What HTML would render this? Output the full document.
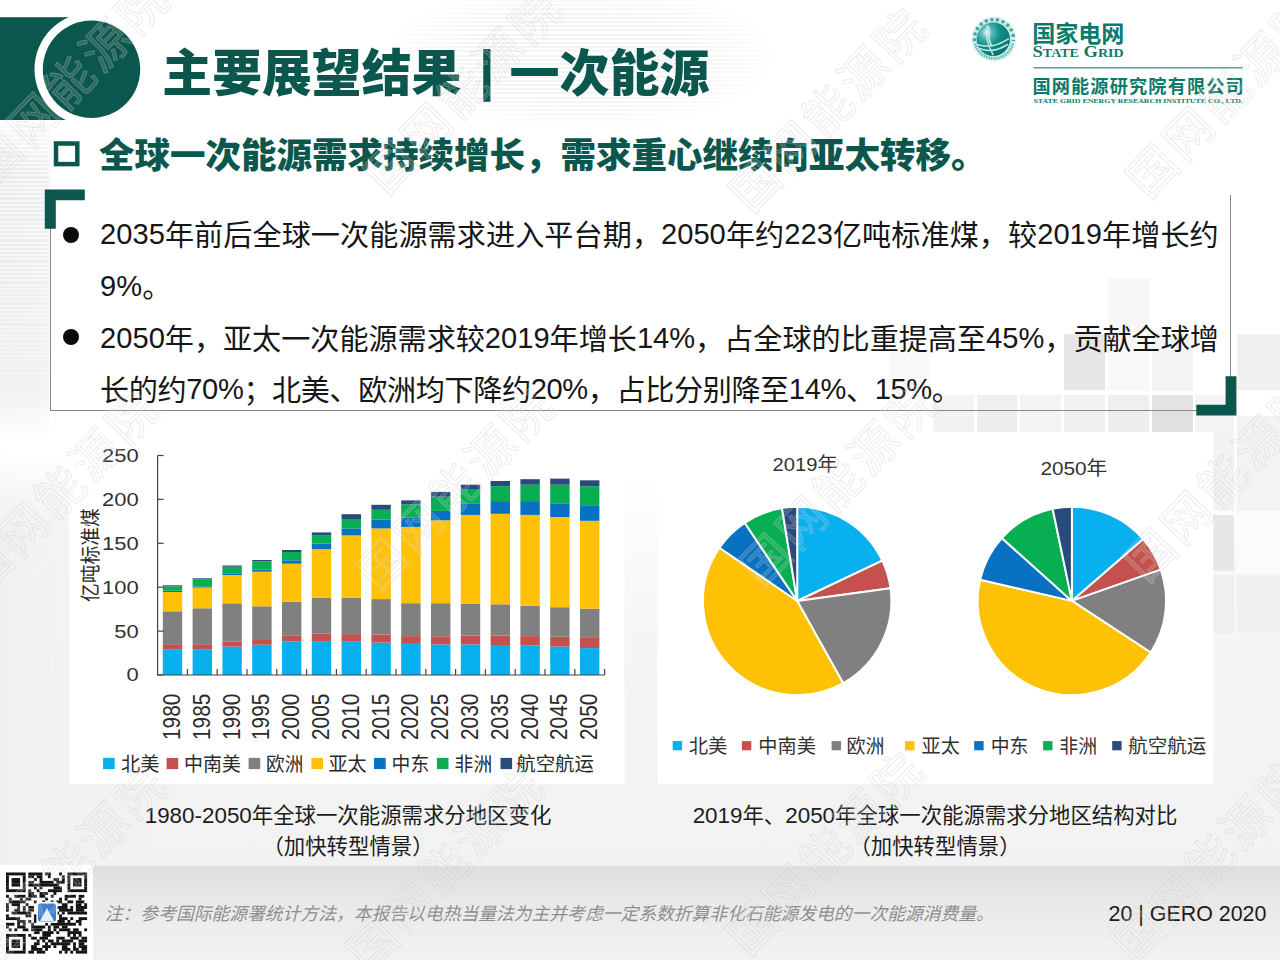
<!DOCTYPE html>
<html lang="zh-CN">
<head>
<meta charset="utf-8">
<title>主要展望结果 | 一次能源</title>
<style>
html,body{margin:0;padding:0;}
body{width:1280px;height:960px;overflow:hidden;position:relative;background:#fff;
 font-family:"Liberation Sans","Noto Sans CJK SC",sans-serif;color:#1a1a1a;}
#bg{position:absolute;left:0;top:0;width:1280px;height:960px;
 background:linear-gradient(180deg,#ffffff 0px,#ffffff 470px,#f6f6f6 620px,#f3f3f3 760px,#f2f2f2 865px);}
#lsh{position:absolute;left:0;top:120px;width:52px;height:320px;background:linear-gradient(90deg,rgba(241,241,241,1) 0,rgba(242,242,242,.9) 46px,rgba(243,243,243,0) 52px);
 -webkit-mask-image:linear-gradient(180deg,transparent 0,#000 50px,#000 270px,transparent 320px);mask-image:linear-gradient(180deg,transparent 0,#000 50px,#000 270px,transparent 320px);}
#lsh2{position:absolute;left:0;top:450px;width:160px;height:415px;background:linear-gradient(90deg,rgba(240,240,240,1) 0,rgba(241,241,241,.8) 60px,rgba(243,243,243,0) 150px);
 -webkit-mask-image:linear-gradient(180deg,transparent 0,#000 80px);mask-image:linear-gradient(180deg,transparent 0,#000 80px);}
.abs{position:absolute;white-space:nowrap;}
svg{position:absolute;left:0;top:0;}
svg text{font-family:"Liberation Sans","Noto Sans CJK SC",sans-serif;}
.tt{line-height:72px;font-weight:900;color:#0c574d;}
#sub{left:98.9px;top:130px;font-size:35.5px;line-height:52px;font-weight:900;color:#0c574d;}
#box{position:absolute;left:50px;top:195px;width:1179px;height:215px;background:linear-gradient(90deg,rgba(255,255,255,.95) 0,rgba(255,255,255,.12) 260px);
 border-left:1px solid #8a8a8a;border-right:1px solid #8a8a8a;border-bottom:1px solid #8a8a8a;box-sizing:content-box;}
.ln{position:absolute;left:100.1px;font-size:29.1px;line-height:40px;height:40px;white-space:nowrap;color:#161616;}
.jl{width:1118.6px;text-align:justify;text-align-last:justify;}
.d{position:relative;top:-2.5px;}
.cap b{font-weight:400;font-size:22.4px;}
.dot{position:absolute;width:16.4px;height:16.4px;border-radius:50%;background:#0a0a0a;left:63px;}
.cap{position:absolute;font-size:21.4px;line-height:31.6px;text-align:center;color:#1c1c1c;white-space:nowrap;}
#foot{position:absolute;left:0;top:866px;width:1280px;height:94px;
 background:linear-gradient(180deg,#dedede 0,#e6e6e6 25px,#efefef 70px,#f1f1f1 95px);}
#note{left:104.8px;top:901px;font-size:17.79px;line-height:26px;font-style:italic;color:#8f8f8f;}
#pg{left:1108.6px;top:899px;font-size:21.4px;line-height:30px;color:#1c1c1c;}
.wm{position:absolute;font-size:48px;line-height:50px;font-weight:400;color:rgba(255,255,255,.12);-webkit-text-stroke:1.1px rgba(195,195,195,.30);white-space:nowrap;transform:translate(-50%,-50%) rotate(-46deg);letter-spacing:4px;}
</style>
</head>
<body>
<div id="bg"></div>
<div id="lsh"></div><div id="lsh2"></div>

<!-- faint map stripes -->
<div style="position:absolute;left:385px;top:0;width:390px;height:126px;background:repeating-linear-gradient(180deg,rgba(0,0,0,.045) 0,rgba(0,0,0,.045) 2px,rgba(0,0,0,0) 2px,rgba(0,0,0,0) 4.2px);-webkit-mask-image:radial-gradient(ellipse 52% 62% at 50% 45%,#000 55%,transparent 100%);mask-image:radial-gradient(ellipse 52% 62% at 50% 45%,#000 55%,transparent 100%);"></div>
<div style="position:absolute;left:0;top:126px;width:50px;height:300px;background:repeating-linear-gradient(180deg,rgba(0,0,0,.02) 0,rgba(0,0,0,.02) 2.2px,rgba(255,255,255,.4) 2.2px,rgba(255,255,255,.4) 4.2px);-webkit-mask-image:linear-gradient(180deg,#000 0,#000 45%,transparent 100%);mask-image:linear-gradient(180deg,#000 0,#000 45%,transparent 100%);"></div>
<!-- decorative squares -->
<svg width="1280" height="960" viewBox="0 0 1280 960">
 <g>
  <rect x="1108" y="278" width="41" height="54" fill="#f6f6f6"/>
  <rect x="1108" y="334" width="41" height="57" fill="#f7f7f7"/>
  <rect x="1064" y="334" width="41" height="56" fill="#e3e3e3"/>
  <rect x="889" y="350" width="41" height="40" fill="#f8f8f8"/>
  <rect x="1152" y="334" width="41" height="57" fill="#f3f3f3"/>
  <rect x="1237" y="334" width="43" height="56" fill="#f0f0f0"/>
  <rect x="933" y="395" width="41" height="37" fill="#f2f2f2"/>
  <rect x="977" y="395" width="40" height="37" fill="#ededed"/>
  <rect x="1020" y="395" width="41" height="37" fill="#f3f3f3"/>
  <rect x="1064" y="395" width="41" height="37" fill="#f0f0f0"/>
  <rect x="1108" y="395" width="41" height="37" fill="#ededed"/>
  <rect x="1152" y="395" width="41" height="37" fill="#e0e0e0"/>
  <rect x="1195" y="395" width="39" height="37" fill="#f3f3f3"/>
  <rect x="1237" y="416" width="43" height="95" fill="#f3f3f3"/>
  <rect x="1212" y="432" width="22" height="79" fill="#f2f2f2"/>
  <rect x="1212" y="515" width="22" height="56" fill="#e7e7e7"/>
  <rect x="1237" y="514" width="43" height="58" fill="#fbfbfb"/>
  <rect x="1212" y="575" width="22" height="58" fill="#efefef"/>
  <rect x="1237" y="575" width="43" height="58" fill="#f0f0f0"/>
 </g>
</svg>

<!-- header shapes -->
<svg width="1280" height="960" viewBox="0 0 1280 960">
 <rect x="0" y="17.2" width="92" height="102.8" fill="#0c574d"/>
 <circle cx="91.5" cy="69.3" r="57" fill="#ffffff"/>
 <circle cx="91.5" cy="69.3" r="48.7" fill="#0c574d"/>
</svg>

<div class="abs tt" style="left:162.3px;top:38px;font-size:49.85px">主要展望结果</div>
<div class="abs tt" style="left:479px;top:34px;font-size:56px;">|</div>
<div class="abs tt" style="left:509.6px;top:38px;font-size:50px">一次能源</div>

<!-- logo -->
<svg width="1280" height="960" viewBox="0 0 1280 960">
 <defs>
  <radialGradient id="gl" cx="30%" cy="30%" r="80%">
   <stop offset="0" stop-color="#dff5f2"/><stop offset="0.22" stop-color="#56b9b3"/><stop offset="0.5" stop-color="#0f8e8a"/><stop offset="1" stop-color="#07706d"/>
  </radialGradient>
 </defs>
 <circle cx="993.9" cy="39" r="22.4" fill="#d9f2f0"/>
 <circle cx="993.9" cy="39" r="20.6" fill="#c4ebe7"/>
 <path d="M974.51 41.04 A19.5 19.5 0 1 1 1013.29 41.04" fill="none" stroke="#2f9792" stroke-width="3.2" stroke-dasharray="2.7 3.1" opacity=".9"/>
 <path d="M1012.82 43.72 A19.5 19.5 0 0 1 974.98 43.72" fill="none" stroke="#3da39d" stroke-width="2.6" stroke-dasharray="1.3 1.2" opacity=".75"/>
 <circle cx="993.3" cy="39.2" r="16.7" fill="url(#gl)"/>
 <path d="M977.5 44.5 Q992 49.5 1008.5 38.8 M979.5 48.5 Q993 54 1007.5 44.5 M987.2 25.5 Q984.5 40 993 54.5 M989 27 Q987.6 38 991.6 46" fill="none" stroke="#d2f3ef" stroke-width="1.5" stroke-linecap="round" opacity=".9"/>
 <text x="1032.2" y="41.5" font-size="22.6" font-weight="700" fill="#0b7a6c" textLength="92.2" lengthAdjust="spacingAndGlyphs">国家电网</text>
 <text x="1032.6" y="57" font-family="Liberation Serif, serif" font-weight="700" fill="#0b7a6c" font-size="16.6" textLength="91" lengthAdjust="spacingAndGlyphs" style="font-family:'Liberation Serif',serif">S<tspan font-size="12.6">TATE</tspan> G<tspan font-size="12.6">RID</tspan></text>
 <rect x="1033.5" y="67" width="209.5" height="1.5" fill="#5f9c93"/>
 <text x="1032.4" y="93" font-size="18.2" font-weight="700" fill="#0b7a6c" textLength="211.4" lengthAdjust="spacing">国网能源研究院有限公司</text>
 <text x="1033.5" y="103.2" font-weight="700" fill="#0b7a6c" font-size="6.4" textLength="209.5" lengthAdjust="spacingAndGlyphs" style="font-family:'Liberation Serif',serif">STATE GRID ENERGY RESEARCH INSTITUTE CO., LTD.</text>
</svg>

<!-- subtitle -->
<svg width="1280" height="960" viewBox="0 0 1280 960">
 <rect x="56" y="143.5" width="21.3" height="20.6" fill="none" stroke="#0c574d" stroke-width="4.5"/>
</svg>
<div id="sub" class="abs">全球一次能源需求持续增长，需求重心继续向亚太转移。</div>

<!-- text box -->
<div id="box"></div>
<svg width="1280" height="960" viewBox="0 0 1280 960">
 <path d="M44.8 189.4 H84.8 V200.2 H55.8 V228.8 H44.8 Z" fill="#0c574d"/>
 <path d="M1236.4 415.5 H1196.3 V404.7 H1225.6 V376.3 H1236.4 Z" fill="#0c574d"/>
</svg>
<div class="dot" style="top:226.5px"></div>
<div class="dot" style="top:329px"></div>
<div class="ln jl" style="top:216.2px"><span class="d">2035</span>年前后全球一次能源需求进入平台期，<span class="d">2050</span>年约<span class="d">223</span>亿吨标准煤，较<span class="d">2019</span>年增长约</div>
<div class="ln" style="top:268.0px"><span class="d">9%</span>。</div>
<div class="ln jl" style="top:320.0px"><span class="d">2050</span>年，亚太一次能源需求较<span class="d">2019</span>年增长<span class="d">14%</span>，占全球的比重提高至<span class="d">45%</span>，贡献全球增</div>
<div class="ln" style="top:371.2px;letter-spacing:-0.37px">长的约<span class="d">70%</span>；北美、欧洲均下降约<span class="d">20%</span>，占比分别降至<span class="d">14%</span>、<span class="d">15%</span>。</div>

<!-- charts -->
<svg width="1280" height="960" viewBox="0 0 1280 960">
<rect x="69.5" y="432.5" width="555" height="351.5" fill="#fff"/>
<rect x="162.8" y="649.2" width="19.4" height="25.8" fill="#08b0ef"/>
<rect x="162.8" y="644.2" width="19.4" height="5.0" fill="#c4514d"/>
<rect x="162.8" y="611.3" width="19.4" height="32.9" fill="#808080"/>
<rect x="162.8" y="592.0" width="19.4" height="19.3" fill="#ffc105"/>
<rect x="162.8" y="590.8" width="19.4" height="1.2" fill="#0871c1"/>
<rect x="162.8" y="586.3" width="19.4" height="4.5" fill="#08af52"/>
<rect x="162.8" y="585.3" width="19.4" height="1.0" fill="#294b7b"/>
<rect x="192.6" y="649.2" width="19.4" height="25.8" fill="#08b0ef"/>
<rect x="192.6" y="644.2" width="19.4" height="5.0" fill="#c4514d"/>
<rect x="192.6" y="608.3" width="19.4" height="35.9" fill="#808080"/>
<rect x="192.6" y="587.5" width="19.4" height="20.8" fill="#ffc105"/>
<rect x="192.6" y="586.4" width="19.4" height="1.1" fill="#0871c1"/>
<rect x="192.6" y="579.2" width="19.4" height="7.2" fill="#08af52"/>
<rect x="192.6" y="578.3" width="19.4" height="0.9" fill="#294b7b"/>
<rect x="222.4" y="646.7" width="19.4" height="28.3" fill="#08b0ef"/>
<rect x="222.4" y="641.7" width="19.4" height="5.0" fill="#c4514d"/>
<rect x="222.4" y="603.3" width="19.4" height="38.4" fill="#808080"/>
<rect x="222.4" y="575.0" width="19.4" height="28.3" fill="#ffc105"/>
<rect x="222.4" y="573.3" width="19.4" height="1.7" fill="#0871c1"/>
<rect x="222.4" y="566.7" width="19.4" height="6.6" fill="#08af52"/>
<rect x="222.4" y="565.5" width="19.4" height="1.2" fill="#294b7b"/>
<rect x="252.2" y="644.7" width="19.4" height="30.3" fill="#08b0ef"/>
<rect x="252.2" y="640.0" width="19.4" height="4.7" fill="#c4514d"/>
<rect x="252.2" y="606.3" width="19.4" height="33.7" fill="#808080"/>
<rect x="252.2" y="571.7" width="19.4" height="34.6" fill="#ffc105"/>
<rect x="252.2" y="569.7" width="19.4" height="2.0" fill="#0871c1"/>
<rect x="252.2" y="561.3" width="19.4" height="8.4" fill="#08af52"/>
<rect x="252.2" y="560.0" width="19.4" height="1.3" fill="#294b7b"/>
<rect x="282.0" y="641.3" width="19.4" height="33.7" fill="#08b0ef"/>
<rect x="282.0" y="635.3" width="19.4" height="6.0" fill="#c4514d"/>
<rect x="282.0" y="601.7" width="19.4" height="33.6" fill="#808080"/>
<rect x="282.0" y="563.7" width="19.4" height="38.0" fill="#ffc105"/>
<rect x="282.0" y="560.3" width="19.4" height="3.4" fill="#0871c1"/>
<rect x="282.0" y="552.0" width="19.4" height="8.3" fill="#08af52"/>
<rect x="282.0" y="550.0" width="19.4" height="2.0" fill="#294b7b"/>
<rect x="311.8" y="641.1" width="19.4" height="33.9" fill="#08b0ef"/>
<rect x="311.8" y="633.4" width="19.4" height="7.7" fill="#c4514d"/>
<rect x="311.8" y="597.8" width="19.4" height="35.6" fill="#808080"/>
<rect x="311.8" y="549.2" width="19.4" height="48.6" fill="#ffc105"/>
<rect x="311.8" y="543.7" width="19.4" height="5.5" fill="#0871c1"/>
<rect x="311.8" y="535.6" width="19.4" height="8.1" fill="#08af52"/>
<rect x="311.8" y="532.4" width="19.4" height="3.2" fill="#294b7b"/>
<rect x="341.6" y="641.7" width="19.4" height="33.3" fill="#08b0ef"/>
<rect x="341.6" y="634.1" width="19.4" height="7.6" fill="#c4514d"/>
<rect x="341.6" y="597.8" width="19.4" height="36.3" fill="#808080"/>
<rect x="341.6" y="535.4" width="19.4" height="62.4" fill="#ffc105"/>
<rect x="341.6" y="528.4" width="19.4" height="7.0" fill="#0871c1"/>
<rect x="341.6" y="519.0" width="19.4" height="9.4" fill="#08af52"/>
<rect x="341.6" y="514.2" width="19.4" height="4.8" fill="#294b7b"/>
<rect x="371.4" y="642.6" width="19.4" height="32.4" fill="#08b0ef"/>
<rect x="371.4" y="634.5" width="19.4" height="8.1" fill="#c4514d"/>
<rect x="371.4" y="599.1" width="19.4" height="35.4" fill="#808080"/>
<rect x="371.4" y="528.4" width="19.4" height="70.7" fill="#ffc105"/>
<rect x="371.4" y="519.7" width="19.4" height="8.7" fill="#0871c1"/>
<rect x="371.4" y="509.8" width="19.4" height="9.9" fill="#08af52"/>
<rect x="371.4" y="504.8" width="19.4" height="5.0" fill="#294b7b"/>
<rect x="401.2" y="643.9" width="19.4" height="31.1" fill="#08b0ef"/>
<rect x="401.2" y="636.1" width="19.4" height="7.8" fill="#c4514d"/>
<rect x="401.2" y="603.2" width="19.4" height="32.9" fill="#808080"/>
<rect x="401.2" y="526.9" width="19.4" height="76.3" fill="#ffc105"/>
<rect x="401.2" y="517.5" width="19.4" height="9.4" fill="#0871c1"/>
<rect x="401.2" y="504.4" width="19.4" height="13.1" fill="#08af52"/>
<rect x="401.2" y="500.4" width="19.4" height="4.0" fill="#294b7b"/>
<rect x="431.0" y="644.4" width="19.4" height="30.6" fill="#08b0ef"/>
<rect x="431.0" y="636.3" width="19.4" height="8.1" fill="#c4514d"/>
<rect x="431.0" y="603.2" width="19.4" height="33.1" fill="#808080"/>
<rect x="431.0" y="520.3" width="19.4" height="82.9" fill="#ffc105"/>
<rect x="431.0" y="510.9" width="19.4" height="9.4" fill="#0871c1"/>
<rect x="431.0" y="496.7" width="19.4" height="14.2" fill="#08af52"/>
<rect x="431.0" y="491.9" width="19.4" height="4.8" fill="#294b7b"/>
<rect x="460.8" y="644.4" width="19.4" height="30.6" fill="#08b0ef"/>
<rect x="460.8" y="635.6" width="19.4" height="8.8" fill="#c4514d"/>
<rect x="460.8" y="603.9" width="19.4" height="31.7" fill="#808080"/>
<rect x="460.8" y="514.9" width="19.4" height="89.0" fill="#ffc105"/>
<rect x="460.8" y="503.3" width="19.4" height="11.6" fill="#0871c1"/>
<rect x="460.8" y="489.7" width="19.4" height="13.6" fill="#08af52"/>
<rect x="460.8" y="484.7" width="19.4" height="5.0" fill="#294b7b"/>
<rect x="490.6" y="645.0" width="19.4" height="30.0" fill="#08b0ef"/>
<rect x="490.6" y="635.6" width="19.4" height="9.4" fill="#c4514d"/>
<rect x="490.6" y="604.3" width="19.4" height="31.3" fill="#808080"/>
<rect x="490.6" y="513.8" width="19.4" height="90.5" fill="#ffc105"/>
<rect x="490.6" y="501.1" width="19.4" height="12.7" fill="#0871c1"/>
<rect x="490.6" y="486.2" width="19.4" height="14.9" fill="#08af52"/>
<rect x="490.6" y="481.0" width="19.4" height="5.2" fill="#294b7b"/>
<rect x="520.4" y="645.5" width="19.4" height="29.5" fill="#08b0ef"/>
<rect x="520.4" y="636.1" width="19.4" height="9.4" fill="#c4514d"/>
<rect x="520.4" y="605.7" width="19.4" height="30.4" fill="#808080"/>
<rect x="520.4" y="514.9" width="19.4" height="90.8" fill="#ffc105"/>
<rect x="520.4" y="501.1" width="19.4" height="13.8" fill="#0871c1"/>
<rect x="520.4" y="484.7" width="19.4" height="16.4" fill="#08af52"/>
<rect x="520.4" y="479.2" width="19.4" height="5.5" fill="#294b7b"/>
<rect x="550.2" y="646.6" width="19.4" height="28.4" fill="#08b0ef"/>
<rect x="550.2" y="636.7" width="19.4" height="9.9" fill="#c4514d"/>
<rect x="550.2" y="607.2" width="19.4" height="29.5" fill="#808080"/>
<rect x="550.2" y="517.1" width="19.4" height="90.1" fill="#ffc105"/>
<rect x="550.2" y="503.3" width="19.4" height="13.8" fill="#0871c1"/>
<rect x="550.2" y="484.7" width="19.4" height="18.6" fill="#08af52"/>
<rect x="550.2" y="478.6" width="19.4" height="6.1" fill="#294b7b"/>
<rect x="580.0" y="648.1" width="19.4" height="26.9" fill="#08b0ef"/>
<rect x="580.0" y="637.2" width="19.4" height="10.9" fill="#c4514d"/>
<rect x="580.0" y="608.7" width="19.4" height="28.5" fill="#808080"/>
<rect x="580.0" y="520.8" width="19.4" height="87.9" fill="#ffc105"/>
<rect x="580.0" y="505.9" width="19.4" height="14.9" fill="#0871c1"/>
<rect x="580.0" y="486.2" width="19.4" height="19.7" fill="#08af52"/>
<rect x="580.0" y="480.3" width="19.4" height="5.9" fill="#294b7b"/>
<path d="M157.6 455.5 V675.0 H604.6" fill="none" stroke="#444" stroke-width="1.2"/>
<path d="M157.6 675.0 h6" stroke="#444" stroke-width="1.2"/>
<text x="138.7" y="681.4" text-anchor="end" font-size="18" fill="#303030" textLength="12.2" lengthAdjust="spacingAndGlyphs">0</text>
<path d="M157.6 631.1 h6" stroke="#444" stroke-width="1.2"/>
<text x="138.7" y="637.5" text-anchor="end" font-size="18" fill="#303030" textLength="24.4" lengthAdjust="spacingAndGlyphs">50</text>
<path d="M157.6 587.2 h6" stroke="#444" stroke-width="1.2"/>
<text x="138.7" y="593.6" text-anchor="end" font-size="18" fill="#303030" textLength="36.6" lengthAdjust="spacingAndGlyphs">100</text>
<path d="M157.6 543.3 h6" stroke="#444" stroke-width="1.2"/>
<text x="138.7" y="549.7" text-anchor="end" font-size="18" fill="#303030" textLength="36.6" lengthAdjust="spacingAndGlyphs">150</text>
<path d="M157.6 499.4 h6" stroke="#444" stroke-width="1.2"/>
<text x="138.7" y="505.8" text-anchor="end" font-size="18" fill="#303030" textLength="36.6" lengthAdjust="spacingAndGlyphs">200</text>
<path d="M157.6 455.5 h6" stroke="#444" stroke-width="1.2"/>
<text x="138.7" y="461.9" text-anchor="end" font-size="18" fill="#303030" textLength="36.6" lengthAdjust="spacingAndGlyphs">250</text>
<path d="M187.4 675.0 v-6" stroke="#444" stroke-width="1.2"/>
<path d="M217.2 675.0 v-6" stroke="#444" stroke-width="1.2"/>
<path d="M247.0 675.0 v-6" stroke="#444" stroke-width="1.2"/>
<path d="M276.8 675.0 v-6" stroke="#444" stroke-width="1.2"/>
<path d="M306.6 675.0 v-6" stroke="#444" stroke-width="1.2"/>
<path d="M336.4 675.0 v-6" stroke="#444" stroke-width="1.2"/>
<path d="M366.2 675.0 v-6" stroke="#444" stroke-width="1.2"/>
<path d="M396.0 675.0 v-6" stroke="#444" stroke-width="1.2"/>
<path d="M425.8 675.0 v-6" stroke="#444" stroke-width="1.2"/>
<path d="M455.6 675.0 v-6" stroke="#444" stroke-width="1.2"/>
<path d="M485.4 675.0 v-6" stroke="#444" stroke-width="1.2"/>
<path d="M515.2 675.0 v-6" stroke="#444" stroke-width="1.2"/>
<path d="M545.0 675.0 v-6" stroke="#444" stroke-width="1.2"/>
<path d="M574.8 675.0 v-6" stroke="#444" stroke-width="1.2"/>
<path d="M604.6 675.0 v-6" stroke="#444" stroke-width="1.2"/>
<text transform="translate(180.0 740) rotate(-90)" font-size="23.4" fill="#2a2a2a" textLength="46.4" lengthAdjust="spacingAndGlyphs">1980</text>
<text transform="translate(209.8 740) rotate(-90)" font-size="23.4" fill="#2a2a2a" textLength="46.4" lengthAdjust="spacingAndGlyphs">1985</text>
<text transform="translate(239.6 740) rotate(-90)" font-size="23.4" fill="#2a2a2a" textLength="46.4" lengthAdjust="spacingAndGlyphs">1990</text>
<text transform="translate(269.4 740) rotate(-90)" font-size="23.4" fill="#2a2a2a" textLength="46.4" lengthAdjust="spacingAndGlyphs">1995</text>
<text transform="translate(299.2 740) rotate(-90)" font-size="23.4" fill="#2a2a2a" textLength="46.4" lengthAdjust="spacingAndGlyphs">2000</text>
<text transform="translate(329.0 740) rotate(-90)" font-size="23.4" fill="#2a2a2a" textLength="46.4" lengthAdjust="spacingAndGlyphs">2005</text>
<text transform="translate(358.8 740) rotate(-90)" font-size="23.4" fill="#2a2a2a" textLength="46.4" lengthAdjust="spacingAndGlyphs">2010</text>
<text transform="translate(388.6 740) rotate(-90)" font-size="23.4" fill="#2a2a2a" textLength="46.4" lengthAdjust="spacingAndGlyphs">2015</text>
<text transform="translate(418.4 740) rotate(-90)" font-size="23.4" fill="#2a2a2a" textLength="46.4" lengthAdjust="spacingAndGlyphs">2020</text>
<text transform="translate(448.2 740) rotate(-90)" font-size="23.4" fill="#2a2a2a" textLength="46.4" lengthAdjust="spacingAndGlyphs">2025</text>
<text transform="translate(478.0 740) rotate(-90)" font-size="23.4" fill="#2a2a2a" textLength="46.4" lengthAdjust="spacingAndGlyphs">2030</text>
<text transform="translate(507.8 740) rotate(-90)" font-size="23.4" fill="#2a2a2a" textLength="46.4" lengthAdjust="spacingAndGlyphs">2035</text>
<text transform="translate(537.6 740) rotate(-90)" font-size="23.4" fill="#2a2a2a" textLength="46.4" lengthAdjust="spacingAndGlyphs">2040</text>
<text transform="translate(567.4 740) rotate(-90)" font-size="23.4" fill="#2a2a2a" textLength="46.4" lengthAdjust="spacingAndGlyphs">2045</text>
<text transform="translate(597.2 740) rotate(-90)" font-size="23.4" fill="#2a2a2a" textLength="46.4" lengthAdjust="spacingAndGlyphs">2050</text>
<text transform="translate(98 602) rotate(-90) scale(0.92 1.02)" font-size="20.4" fill="#2a2a2a">亿吨标准煤</text>
<rect x="103.1" y="757.9" width="11.6" height="11.2" fill="#08b0ef"/>
<text x="121.1" y="770.6" font-size="19.6" fill="#2a2a2a" textLength="38.5" lengthAdjust="spacingAndGlyphs">北美</text>
<rect x="166.6" y="757.9" width="11.6" height="11.2" fill="#c4514d"/>
<text x="184.1" y="770.6" font-size="19.6" fill="#2a2a2a" textLength="56.8" lengthAdjust="spacingAndGlyphs">中南美</text>
<rect x="248.6" y="757.9" width="11.6" height="11.2" fill="#808080"/>
<text x="266.1" y="770.6" font-size="19.6" fill="#2a2a2a" textLength="37.2" lengthAdjust="spacingAndGlyphs">欧洲</text>
<rect x="311.4" y="757.9" width="11.6" height="11.2" fill="#ffc105"/>
<text x="328.5" y="770.6" font-size="19.6" fill="#2a2a2a" textLength="38.2" lengthAdjust="spacingAndGlyphs">亚太</text>
<rect x="374.1" y="757.9" width="11.6" height="11.2" fill="#0871c1"/>
<text x="391.6" y="770.6" font-size="19.6" fill="#2a2a2a" textLength="37.6" lengthAdjust="spacingAndGlyphs">中东</text>
<rect x="436.9" y="757.9" width="11.6" height="11.2" fill="#08af52"/>
<text x="454.6" y="770.6" font-size="19.6" fill="#2a2a2a" textLength="37.6" lengthAdjust="spacingAndGlyphs">非洲</text>
<rect x="500.5" y="757.9" width="11.6" height="11.2" fill="#294b7b"/>
<text x="516.3" y="770.6" font-size="19.6" fill="#2a2a2a" textLength="77.6" lengthAdjust="spacingAndGlyphs">航空航运</text>
</svg>
<svg width="1280" height="960" viewBox="0 0 1280 960">
<rect x="657.5" y="432.5" width="555.8" height="351.5" fill="#fff"/>
<path d="M797.2 601.0 L797.20 506.80 A94.2 94.2 0 0 1 882.29 560.59 Z" fill="#08b0ef" stroke="#fff" stroke-width="2" stroke-linejoin="round"/>
<path d="M797.2 601.0 L882.29 560.59 A94.2 94.2 0 0 1 890.53 588.22 Z" fill="#c4514d" stroke="#fff" stroke-width="2" stroke-linejoin="round"/>
<path d="M797.2 601.0 L890.53 588.22 A94.2 94.2 0 0 1 843.16 683.23 Z" fill="#808080" stroke="#fff" stroke-width="2" stroke-linejoin="round"/>
<path d="M797.2 601.0 L843.16 683.23 A94.2 94.2 0 0 1 719.47 547.78 Z" fill="#ffc105" stroke="#fff" stroke-width="2" stroke-linejoin="round"/>
<path d="M797.2 601.0 L719.47 547.78 A94.2 94.2 0 0 1 744.66 522.81 Z" fill="#0871c1" stroke="#fff" stroke-width="2" stroke-linejoin="round"/>
<path d="M797.2 601.0 L744.66 522.81 A94.2 94.2 0 0 1 781.98 508.04 Z" fill="#08af52" stroke="#fff" stroke-width="2" stroke-linejoin="round"/>
<path d="M797.2 601.0 L781.98 508.04 A94.2 94.2 0 0 1 797.20 506.80 Z" fill="#294b7b" stroke="#fff" stroke-width="2" stroke-linejoin="round"/>
<path d="M1071.9 600.9 L1071.90 506.70 A94.2 94.2 0 0 1 1143.10 539.22 Z" fill="#08b0ef" stroke="#fff" stroke-width="2" stroke-linejoin="round"/>
<path d="M1071.9 600.9 L1143.10 539.22 A94.2 94.2 0 0 1 1160.75 569.61 Z" fill="#c4514d" stroke="#fff" stroke-width="2" stroke-linejoin="round"/>
<path d="M1071.9 600.9 L1160.75 569.61 A94.2 94.2 0 0 1 1150.72 652.48 Z" fill="#808080" stroke="#fff" stroke-width="2" stroke-linejoin="round"/>
<path d="M1071.9 600.9 L1150.72 652.48 A94.2 94.2 0 0 1 980.11 579.71 Z" fill="#ffc105" stroke="#fff" stroke-width="2" stroke-linejoin="round"/>
<path d="M1071.9 600.9 L980.11 579.71 A94.2 94.2 0 0 1 1001.79 537.99 Z" fill="#0871c1" stroke="#fff" stroke-width="2" stroke-linejoin="round"/>
<path d="M1071.9 600.9 L1001.79 537.99 A94.2 94.2 0 0 1 1052.64 508.69 Z" fill="#08af52" stroke="#fff" stroke-width="2" stroke-linejoin="round"/>
<path d="M1071.9 600.9 L1052.64 508.69 A94.2 94.2 0 0 1 1071.90 506.70 Z" fill="#294b7b" stroke="#fff" stroke-width="2" stroke-linejoin="round"/>
<text x="772.6" y="470.6" font-size="19.2" fill="#333" textLength="65" lengthAdjust="spacingAndGlyphs">2019年</text>
<text x="1040.4" y="474.8" font-size="19.2" fill="#333" textLength="67" lengthAdjust="spacingAndGlyphs">2050年</text>
<rect x="672.7" y="741.1" width="9.4" height="9.2" fill="#08b0ef"/>
<text x="688.7" y="752.9" font-size="19.6" fill="#333" textLength="38.6" lengthAdjust="spacingAndGlyphs">北美</text>
<rect x="741.9" y="741.1" width="9.4" height="9.2" fill="#c4514d"/>
<text x="758.3" y="752.9" font-size="19.6" fill="#333" textLength="57.6" lengthAdjust="spacingAndGlyphs">中南美</text>
<rect x="831.6" y="741.1" width="9.4" height="9.2" fill="#808080"/>
<text x="846.4" y="752.9" font-size="19.6" fill="#333" textLength="38.0" lengthAdjust="spacingAndGlyphs">欧洲</text>
<rect x="905.1" y="741.1" width="9.4" height="9.2" fill="#ffc105"/>
<text x="921.6" y="752.9" font-size="19.6" fill="#333" textLength="38.2" lengthAdjust="spacingAndGlyphs">亚太</text>
<rect x="974.2" y="741.1" width="9.4" height="9.2" fill="#0871c1"/>
<text x="990.7" y="752.9" font-size="19.6" fill="#333" textLength="37.7" lengthAdjust="spacingAndGlyphs">中东</text>
<rect x="1043.1" y="741.1" width="9.4" height="9.2" fill="#08af52"/>
<text x="1059.3" y="752.9" font-size="19.6" fill="#333" textLength="37.9" lengthAdjust="spacingAndGlyphs">非洲</text>
<rect x="1112.2" y="741.1" width="9.4" height="9.2" fill="#294b7b"/>
<text x="1128.2" y="752.9" font-size="19.6" fill="#333" textLength="78.1" lengthAdjust="spacingAndGlyphs">航空航运</text>
</svg>

<div class="cap" style="left:98px;width:500px;top:799.5px"><b>1980-2050</b>年全球一次能源需求分地区变化<br>（加快转型情景）</div>
<div class="cap" style="left:685px;width:500px;top:799.5px"><b>2019</b>年、<b>2050</b>年全球一次能源需求分地区结构对比<br>（加快转型情景）</div>

<!-- footer -->
<div id="foot"></div>
<svg width="1280" height="960" viewBox="0 0 1280 960">
 <rect x="0" y="865" width="93" height="95" fill="#ffffff"/>
 <g fill="#141414"><rect x="6.00" y="872.50" width="19.65" height="2.89"/><rect x="28.34" y="872.50" width="14.07" height="2.89"/><rect x="45.10" y="872.50" width="5.69" height="2.89"/><rect x="59.07" y="872.50" width="2.89" height="2.89"/><rect x="67.45" y="872.50" width="19.65" height="2.89"/><rect x="6.00" y="875.29" width="2.89" height="2.89"/><rect x="22.76" y="875.29" width="2.89" height="2.89"/><rect x="28.34" y="875.29" width="5.69" height="2.89"/><rect x="36.72" y="875.29" width="5.69" height="2.89"/><rect x="47.90" y="875.29" width="2.89" height="2.89"/><rect x="61.86" y="875.29" width="2.89" height="2.89"/><rect x="67.45" y="875.29" width="2.89" height="2.89"/><rect x="84.21" y="875.29" width="2.89" height="2.89"/><rect x="6.00" y="878.09" width="2.89" height="2.89"/><rect x="11.59" y="878.09" width="8.48" height="2.89"/><rect x="22.76" y="878.09" width="2.89" height="2.89"/><rect x="33.93" y="878.09" width="2.89" height="2.89"/><rect x="39.52" y="878.09" width="2.89" height="2.89"/><rect x="53.48" y="878.09" width="5.69" height="2.89"/><rect x="61.86" y="878.09" width="2.89" height="2.89"/><rect x="67.45" y="878.09" width="2.89" height="2.89"/><rect x="73.03" y="878.09" width="8.48" height="2.89"/><rect x="84.21" y="878.09" width="2.89" height="2.89"/><rect x="6.00" y="880.88" width="2.89" height="2.89"/><rect x="11.59" y="880.88" width="8.48" height="2.89"/><rect x="22.76" y="880.88" width="2.89" height="2.89"/><rect x="28.34" y="880.88" width="5.69" height="2.89"/><rect x="39.52" y="880.88" width="14.07" height="2.89"/><rect x="56.28" y="880.88" width="8.48" height="2.89"/><rect x="67.45" y="880.88" width="2.89" height="2.89"/><rect x="73.03" y="880.88" width="8.48" height="2.89"/><rect x="84.21" y="880.88" width="2.89" height="2.89"/><rect x="6.00" y="883.67" width="2.89" height="2.89"/><rect x="11.59" y="883.67" width="8.48" height="2.89"/><rect x="22.76" y="883.67" width="2.89" height="2.89"/><rect x="28.34" y="883.67" width="30.82" height="2.89"/><rect x="67.45" y="883.67" width="2.89" height="2.89"/><rect x="73.03" y="883.67" width="8.48" height="2.89"/><rect x="84.21" y="883.67" width="2.89" height="2.89"/><rect x="6.00" y="886.47" width="2.89" height="2.89"/><rect x="22.76" y="886.47" width="2.89" height="2.89"/><rect x="33.93" y="886.47" width="2.89" height="2.89"/><rect x="39.52" y="886.47" width="2.89" height="2.89"/><rect x="53.48" y="886.47" width="8.48" height="2.89"/><rect x="67.45" y="886.47" width="2.89" height="2.89"/><rect x="84.21" y="886.47" width="2.89" height="2.89"/><rect x="6.00" y="889.26" width="19.65" height="2.89"/><rect x="28.34" y="889.26" width="2.89" height="2.89"/><rect x="36.72" y="889.26" width="2.89" height="2.89"/><rect x="47.90" y="889.26" width="14.07" height="2.89"/><rect x="67.45" y="889.26" width="19.65" height="2.89"/><rect x="28.34" y="892.05" width="5.69" height="2.89"/><rect x="39.52" y="892.05" width="8.48" height="2.89"/><rect x="53.48" y="892.05" width="2.89" height="2.89"/><rect x="6.00" y="894.84" width="2.89" height="2.89"/><rect x="14.38" y="894.84" width="11.27" height="2.89"/><rect x="28.34" y="894.84" width="8.48" height="2.89"/><rect x="39.52" y="894.84" width="5.69" height="2.89"/><rect x="50.69" y="894.84" width="2.89" height="2.89"/><rect x="64.66" y="894.84" width="11.27" height="2.89"/><rect x="78.62" y="894.84" width="5.69" height="2.89"/><rect x="8.79" y="897.64" width="2.89" height="2.89"/><rect x="19.97" y="897.64" width="2.89" height="2.89"/><rect x="25.55" y="897.64" width="5.69" height="2.89"/><rect x="45.10" y="897.64" width="2.89" height="2.89"/><rect x="59.07" y="897.64" width="2.89" height="2.89"/><rect x="64.66" y="897.64" width="2.89" height="2.89"/><rect x="78.62" y="897.64" width="2.89" height="2.89"/><rect x="8.79" y="900.43" width="16.86" height="2.89"/><rect x="33.93" y="900.43" width="2.89" height="2.89"/><rect x="42.31" y="900.43" width="2.89" height="2.89"/><rect x="50.69" y="900.43" width="2.89" height="2.89"/><rect x="56.28" y="900.43" width="5.69" height="2.89"/><rect x="67.45" y="900.43" width="5.69" height="2.89"/><rect x="75.83" y="900.43" width="8.48" height="2.89"/><rect x="6.00" y="903.22" width="2.89" height="2.89"/><rect x="11.59" y="903.22" width="8.48" height="2.89"/><rect x="25.55" y="903.22" width="2.89" height="2.89"/><rect x="61.86" y="903.22" width="5.69" height="2.89"/><rect x="75.83" y="903.22" width="5.69" height="2.89"/><rect x="84.21" y="903.22" width="2.89" height="2.89"/><rect x="6.00" y="906.02" width="2.89" height="2.89"/><rect x="17.17" y="906.02" width="2.89" height="2.89"/><rect x="22.76" y="906.02" width="2.89" height="2.89"/><rect x="28.34" y="906.02" width="5.69" height="2.89"/><rect x="56.28" y="906.02" width="11.27" height="2.89"/><rect x="70.24" y="906.02" width="2.89" height="2.89"/><rect x="75.83" y="906.02" width="11.27" height="2.89"/><rect x="6.00" y="908.81" width="2.89" height="2.89"/><rect x="14.38" y="908.81" width="5.69" height="2.89"/><rect x="22.76" y="908.81" width="2.89" height="2.89"/><rect x="28.34" y="908.81" width="5.69" height="2.89"/><rect x="59.07" y="908.81" width="14.07" height="2.89"/><rect x="75.83" y="908.81" width="8.48" height="2.89"/><rect x="11.59" y="911.60" width="19.65" height="2.89"/><rect x="56.28" y="911.60" width="2.89" height="2.89"/><rect x="61.86" y="911.60" width="2.89" height="2.89"/><rect x="67.45" y="911.60" width="19.65" height="2.89"/><rect x="6.00" y="914.40" width="2.89" height="2.89"/><rect x="25.55" y="914.40" width="5.69" height="2.89"/><rect x="33.93" y="914.40" width="2.89" height="2.89"/><rect x="59.07" y="914.40" width="2.89" height="2.89"/><rect x="6.00" y="917.19" width="14.07" height="2.89"/><rect x="33.93" y="917.19" width="2.89" height="2.89"/><rect x="59.07" y="917.19" width="8.48" height="2.89"/><rect x="70.24" y="917.19" width="2.89" height="2.89"/><rect x="78.62" y="917.19" width="8.48" height="2.89"/><rect x="17.17" y="919.98" width="8.48" height="2.89"/><rect x="28.34" y="919.98" width="2.89" height="2.89"/><rect x="33.93" y="919.98" width="2.89" height="2.89"/><rect x="56.28" y="919.98" width="8.48" height="2.89"/><rect x="67.45" y="919.98" width="2.89" height="2.89"/><rect x="75.83" y="919.98" width="5.69" height="2.89"/><rect x="6.00" y="922.78" width="8.48" height="2.89"/><rect x="17.17" y="922.78" width="2.89" height="2.89"/><rect x="22.76" y="922.78" width="2.89" height="2.89"/><rect x="31.14" y="922.78" width="2.89" height="2.89"/><rect x="45.10" y="922.78" width="2.89" height="2.89"/><rect x="50.69" y="922.78" width="25.24" height="2.89"/><rect x="78.62" y="922.78" width="2.89" height="2.89"/><rect x="6.00" y="925.57" width="2.89" height="2.89"/><rect x="17.17" y="925.57" width="8.48" height="2.89"/><rect x="31.14" y="925.57" width="14.07" height="2.89"/><rect x="47.90" y="925.57" width="2.89" height="2.89"/><rect x="53.48" y="925.57" width="5.69" height="2.89"/><rect x="61.86" y="925.57" width="5.69" height="2.89"/><rect x="8.79" y="928.36" width="2.89" height="2.89"/><rect x="14.38" y="928.36" width="2.89" height="2.89"/><rect x="22.76" y="928.36" width="5.69" height="2.89"/><rect x="31.14" y="928.36" width="11.27" height="2.89"/><rect x="47.90" y="928.36" width="2.89" height="2.89"/><rect x="53.48" y="928.36" width="2.89" height="2.89"/><rect x="59.07" y="928.36" width="11.27" height="2.89"/><rect x="73.03" y="928.36" width="5.69" height="2.89"/><rect x="84.21" y="928.36" width="2.89" height="2.89"/><rect x="33.93" y="931.16" width="5.69" height="2.89"/><rect x="42.31" y="931.16" width="11.27" height="2.89"/><rect x="56.28" y="931.16" width="2.89" height="2.89"/><rect x="67.45" y="931.16" width="14.07" height="2.89"/><rect x="6.00" y="933.95" width="19.65" height="2.89"/><rect x="28.34" y="933.95" width="2.89" height="2.89"/><rect x="42.31" y="933.95" width="8.48" height="2.89"/><rect x="67.45" y="933.95" width="2.89" height="2.89"/><rect x="73.03" y="933.95" width="2.89" height="2.89"/><rect x="78.62" y="933.95" width="2.89" height="2.89"/><rect x="6.00" y="936.74" width="2.89" height="2.89"/><rect x="22.76" y="936.74" width="2.89" height="2.89"/><rect x="31.14" y="936.74" width="5.69" height="2.89"/><rect x="39.52" y="936.74" width="8.48" height="2.89"/><rect x="56.28" y="936.74" width="8.48" height="2.89"/><rect x="70.24" y="936.74" width="8.48" height="2.89"/><rect x="81.41" y="936.74" width="5.69" height="2.89"/><rect x="6.00" y="939.53" width="2.89" height="2.89"/><rect x="11.59" y="939.53" width="8.48" height="2.89"/><rect x="22.76" y="939.53" width="2.89" height="2.89"/><rect x="36.72" y="939.53" width="2.89" height="2.89"/><rect x="42.31" y="939.53" width="2.89" height="2.89"/><rect x="47.90" y="939.53" width="5.69" height="2.89"/><rect x="56.28" y="939.53" width="2.89" height="2.89"/><rect x="61.86" y="939.53" width="11.27" height="2.89"/><rect x="78.62" y="939.53" width="8.48" height="2.89"/><rect x="6.00" y="942.33" width="2.89" height="2.89"/><rect x="11.59" y="942.33" width="8.48" height="2.89"/><rect x="22.76" y="942.33" width="2.89" height="2.89"/><rect x="33.93" y="942.33" width="5.69" height="2.89"/><rect x="45.10" y="942.33" width="2.89" height="2.89"/><rect x="50.69" y="942.33" width="19.65" height="2.89"/><rect x="73.03" y="942.33" width="2.89" height="2.89"/><rect x="78.62" y="942.33" width="5.69" height="2.89"/><rect x="6.00" y="945.12" width="2.89" height="2.89"/><rect x="11.59" y="945.12" width="8.48" height="2.89"/><rect x="22.76" y="945.12" width="2.89" height="2.89"/><rect x="31.14" y="945.12" width="5.69" height="2.89"/><rect x="42.31" y="945.12" width="8.48" height="2.89"/><rect x="53.48" y="945.12" width="2.89" height="2.89"/><rect x="61.86" y="945.12" width="5.69" height="2.89"/><rect x="73.03" y="945.12" width="2.89" height="2.89"/><rect x="78.62" y="945.12" width="8.48" height="2.89"/><rect x="6.00" y="947.91" width="2.89" height="2.89"/><rect x="22.76" y="947.91" width="2.89" height="2.89"/><rect x="31.14" y="947.91" width="11.27" height="2.89"/><rect x="45.10" y="947.91" width="2.89" height="2.89"/><rect x="61.86" y="947.91" width="8.48" height="2.89"/><rect x="73.03" y="947.91" width="5.69" height="2.89"/><rect x="81.41" y="947.91" width="5.69" height="2.89"/><rect x="6.00" y="950.71" width="19.65" height="2.89"/><rect x="28.34" y="950.71" width="5.69" height="2.89"/><rect x="36.72" y="950.71" width="8.48" height="2.89"/><rect x="59.07" y="950.71" width="2.89" height="2.89"/><rect x="64.66" y="950.71" width="2.89" height="2.89"/><rect x="70.24" y="950.71" width="2.89" height="2.89"/><rect x="75.83" y="950.71" width="11.27" height="2.89"/></g>
 <rect x="36.5" y="902" width="21" height="21" fill="#ffffff"/>
 <rect x="38" y="903.5" width="18" height="18" rx="2" fill="#3f7fd0"/>
 <path d="M40 921 L47 908 L54 921 Z" fill="#e8eef8"/>
</svg>
<div id="note" class="abs">注：参考国际能源署统计方法，本报告以电热当量法为主并考虑一定系数折算非化石能源发电的一次能源消费量。</div>
<div id="pg" class="abs">20 | GERO 2020</div>

<div class="wm" style="left:72px;top:82px">国网能源院</div>
<div class="wm" style="left:465px;top:92px">国网能源院</div>
<div class="wm" style="left:830px;top:110px">国网能源院</div>
<div class="wm" style="left:1227px;top:96px">国网能源院</div>
<div class="wm" style="left:62px;top:492px">国网能源院</div>
<div class="wm" style="left:457px;top:489px">国网能源院</div>
<div class="wm" style="left:840px;top:485px">国网能源院</div>
<div class="wm" style="left:1225px;top:480px">国网能源院</div>
<div class="wm" style="left:70px;top:867px">国网能源院</div>
<div class="wm" style="left:447px;top:869px">国网能源院</div>
<div class="wm" style="left:827px;top:853px">国网能源院</div>
<div class="wm" style="left:1212px;top:860px">国网能源院</div>
</body>
</html>
